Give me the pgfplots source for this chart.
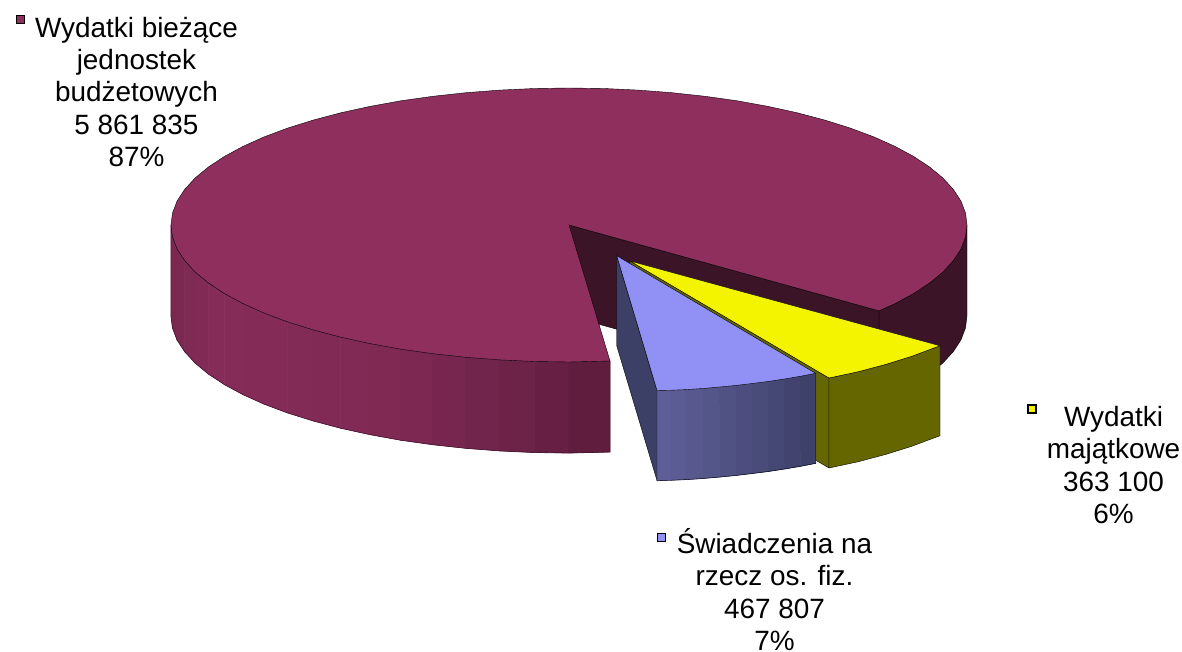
\documentclass[border=0pt]{standalone}
\usepackage{pgfplots}
\pgfplotsset{compat=1.18}
\usepackage{fontspec}
\setmainfont{Liberation Sans}
\definecolor{mtop}{RGB}{143,47,94}
\definecolor{mdark}{RGB}{60,20,40}
\definecolor{ytop}{RGB}{244,244,0}
\definecolor{yside}{RGB}{102,102,0}
\definecolor{btop}{RGB}{144,144,245}
\definecolor{bwall}{RGB}{60,63,102}
\definecolor{medge}{RGB}{50,15,32}
\pgfplotsset{
 colormap={mainside}{rgb255(0cm)=(122,40,80) rgb255(5cm)=(134,44,89) rgb255(23cm)=(126,41,83) rgb255(33cm)=(112,36,74) rgb255(44cm)=(92,27,59)},
 colormap={blueside}{rgb255(0cm)=(96,96,155) rgb255(1cm)=(61,64,104)}
}
\newcommand{\lbl}{\fontsize{27.9}{32.2}\selectfont}
\begin{document}
\begin{tikzpicture}
\begin{axis}[
  scale only axis, width=1182pt, height=652pt,
  xmin=0, xmax=1182, ymin=0, ymax=652, y dir=reverse,
  hide axis, clip=false, point meta rel=per plot
]
\path (axis cs:0,0) rectangle (axis cs:1182,652);
% main slice: right outer wall
\addplot[fill=mdark, draw=black, line width=.4pt] coordinates {
 (967,225) (965.5,236.9) (961,248.8) (953.4,260.5) (943,271.9) (929.7,282.9) (913.7,293.5) (895,303.6) (879,310.8)
 (879,401.8) (895,394.6) (913.7,384.5) (929.7,373.9) (943,362.9) (953.4,351.5) (961,339.8) (965.5,327.9) (967,316)} -- cycle;
% main slice: inner wall
\addplot[fill=mdark, draw=black, line width=.4pt] coordinates {
 (569,225) (879,310.8) (879,401.8) (569,316)} -- cycle;
% main slice: front outer wall
\addplot[surf, shader=faceted, faceted color=mapped color, line width=.7pt, colormap name=mainside, point meta=x, mesh/rows=2] table {
x y
171 225
172.5 236.9
177 248.8
184.6 260.5
195 271.9
208.3 282.9
224.3 293.5
243 303.6
264.1 313.1
287.6 321.9
313.2 329.9
340.7 337.2
370 343.6
400.8 349.2
432.9 353.7
466 357.3
499.9 359.9
534.3 361.5
569 362
610 361
171 316
172.5 327.9
177 339.8
184.6 351.5
195 362.9
208.3 373.9
224.3 384.5
243 394.6
264.1 404.1
287.6 412.9
313.2 420.9
340.7 428.2
370 434.6
400.8 440.2
432.9 444.7
466 448.3
499.9 450.9
534.3 452.5
569 453
610 452
};
\addplot[draw=medge, line width=.4pt] coordinates {
 (171,225) (171,316) (172.5,327.9) (177,339.8) (184.6,351.5) (195,362.9) (208.3,373.9) (224.3,384.5) (243,394.6) (264.1,404.1) (287.6,412.9) (313.2,420.9) (340.7,428.2) (370,434.6) (400.8,440.2) (432.9,444.7) (466,448.3) (499.9,450.9) (534.3,452.5) (569,453) (610,452) (610,361)};
% main slice: top face
\addplot[fill=mtop, draw=black, line width=.4pt] coordinates {
 (569,225) (879,310.8) (895,303.6) (913.7,293.5) (929.7,282.9) (943,271.9) (953.4,260.5) (961,248.8) (965.5,236.9) (967,225)
 (965.5,213.1) (961,201.2) (953.4,189.5) (943,178.1) (929.7,167.1) (913.7,156.5) (895,146.4) (873.9,136.9) (850.4,128.1) (824.8,120.1) (797.3,112.8) (768,106.4) (737.2,100.8) (705.1,96.3) (672,92.7) (638.1,90.1) (603.7,88.5) (569,88)
 (534.3,88.5) (499.9,90.1) (466,92.7) (432.9,96.3) (400.8,100.8) (370,106.4) (340.7,112.8) (313.2,120.1) (287.6,128.1) (264.1,136.9) (243,146.4) (224.3,156.5) (208.3,167.1) (195,178.1) (184.6,189.5) (177,201.2) (172.5,213.1) (171,225)
 (172.5,236.9) (177,248.8) (184.6,260.5) (195,271.9) (208.3,282.9) (224.3,293.5) (243,303.6) (264.1,313.1) (287.6,321.9) (313.2,329.9) (340.7,337.2) (370,343.6) (400.8,349.2) (432.9,353.7) (466,357.3) (499.9,359.9) (534.3,361.5) (569,362) (610,361)} -- cycle;
% yellow slice
\addplot[fill=yside, draw=black, line width=.4pt] coordinates {
 (630,261) (829,378) (829,468) (630,351)} -- cycle;
\addplot[fill=yside, draw=black, line width=.4pt] coordinates {
 (829,378) (858.3,371.7) (885.8,364.4) (911.4,356.4) (934.9,347.6) (940,345.8)
 (940,435.8) (934.9,437.6) (911.4,446.4) (885.8,454.4) (858.3,461.7) (829,468)} -- cycle;
\addplot[fill=ytop, draw=black, line width=.4pt] coordinates {
 (630,261) (829,378) (858.3,371.7) (885.8,364.4) (911.4,356.4) (934.9,347.6) (940,345.8)} -- cycle;
% blue slice
\addplot[fill=bwall, draw=black, line width=.4pt] coordinates {
 (616.7,255.7) (657,390.5) (657,480.5) (616.7,345.7)} -- cycle;
\addplot[surf, shader=faceted, faceted color=mapped color, line width=.7pt, colormap name=blueside, point meta=x, mesh/rows=2] table {
x y
657 390.5
671.4 390.2
685.8 389.6
702.7 388.5
719.7 387
736.2 385.4
752.8 383.4
768.8 381.4
784.9 378.9
800.3 376.3
815.7 373.3
657 480.5
671.4 480.2
685.8 479.6
702.7 478.5
719.7 477
736.2 475.4
752.8 473.4
768.8 471.4
784.9 468.9
800.3 466.3
815.7 463.3
};
\addplot[draw=black, line width=.4pt] coordinates {
 (657,390.5) (657,480.5) (671.4,480.2) (685.8,479.6) (702.7,478.5) (719.7,477) (736.2,475.4) (752.8,473.4) (768.8,471.4) (784.9,468.9) (800.3,466.3) (815.7,463.3) (815.7,373.3)};
\addplot[fill=btop, draw=black, line width=.4pt] coordinates {
 (616.7,255.7) (657,390.5) (671.4,390.2) (685.8,389.6) (702.7,388.5) (719.7,387) (736.2,385.4) (752.8,383.4) (768.8,381.4) (784.9,378.9) (800.3,376.3) (815.7,373.3)} -- cycle;
% legend keys
\addplot[only marks, mark=square*, mark size=4pt, mark options={fill=mtop, draw=black, line width=1.5pt, rounded corners=1pt}] coordinates {(20.5,19.5)};
\addplot[only marks, mark=square*, mark size=4pt, mark options={fill=ytop, draw=black, line width=1.5pt, rounded corners=1pt}] coordinates {(1032,409)};
\addplot[only marks, mark=square*, mark size=4pt, mark options={fill=btop, draw=black, line width=1.5pt, rounded corners=1pt}] coordinates {(661.5,537.5)};
% labels
\node[inner sep=0pt, align=center, font=\lbl, text=black] at (axis cs:136.5,92) {Wydatki bieżące\\jednostek\\budżetowych\\5 861 835\\87\%};
\node[inner sep=0pt, align=center, font=\lbl, text=black] at (axis cs:1113.5,465) {Wydatki\\majątkowe\\363 100\\6\%};
\node[inner sep=0pt, align=center, font=\lbl, text=black] at (axis cs:774.5,589.5) {Świadczenia na\\rzecz os. fiz.\\467 807\\7\%};
\end{axis}
\end{tikzpicture}
\end{document}
